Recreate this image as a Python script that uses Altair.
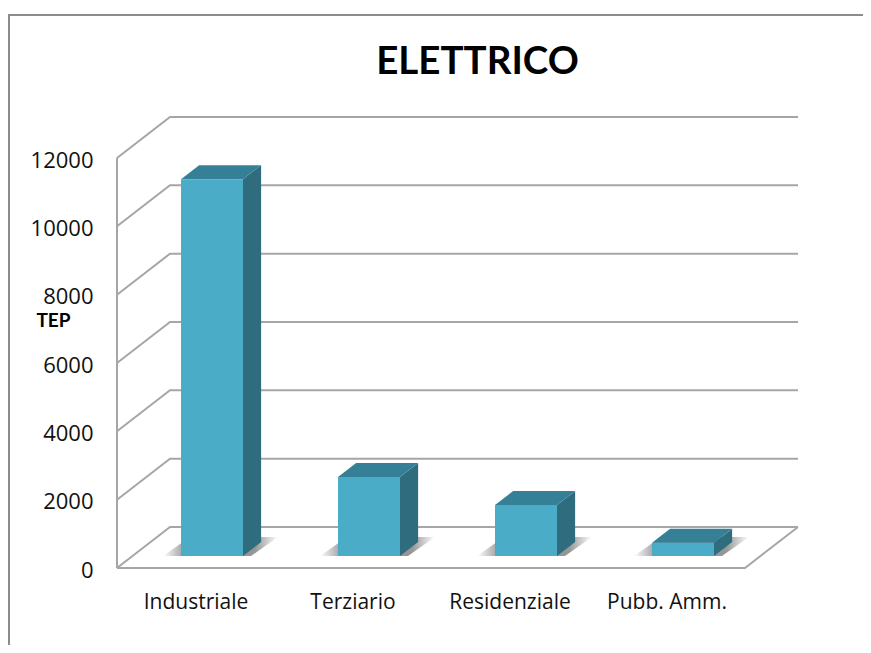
import altair as alt
import pandas as pd

# values
categories = ["Industriale", "Terziario", "Residenziale", "Pubb. Amm."]
values = [11030, 2310, 1490, 390]
ticks = [0, 2000, 4000, 6000, 8000, 10000, 12000]
title_text = "ELETTRICO"

# projection: one category = 157 px, 12000 units = 410 px, depth = 53 px / 41 px
W, H = 855, 637
PX_U = 157.0
PX_V = 410.0 / 12000
X0, Y0 = 117 - 8, 568 - 8          # origin (category 0, value 0) in the plot
DU = 53 / PX_U                     # wall depth, in category units
DV = 41 / PX_V                     # wall depth, in value units
Z_F, Z_B = 12 / 41, 26 / 41        # bar front / back as fraction of depth
BAR = 62 / PX_U

x_dom = [-X0 / PX_U, (W - X0) / PX_U]
y_dom = [-(H - Y0) / PX_V, Y0 / PX_V]
axis_font = "Open Sans"
title_font = "Lato"
x_scale = alt.Scale(domain=x_dom, nice=False, zero=False)
y_scale = alt.Scale(domain=y_dom, nice=False, zero=False)
x_axis = alt.Axis(values=[0.5, 1.5, 2.5, 3.5], offset=-(H - Y0), domain=False, ticks=False, grid=False,
                  title=None, labelPadding=23, labelFontSize=21, labelFont=axis_font, labelColor="#111111",
                  labelExpr="['" + "','".join(categories) + "'][floor(datum.value)]")
y_axis = alt.Axis(values=ticks, offset=-X0, domain=False, ticks=False, grid=False, format="d",
                  labelPadding=24, labelFontSize=22, labelFont=axis_font, labelColor="#111111", labelOffset=2,
                  title="TEP", titleAngle=0, titleX=-64, titleY=312, titleAlign="center",
                  titleBaseline="middle", titleFontSize=19, titleFont=title_font, titleFontWeight="bold",
                  titleColor="#000000")
X = lambda f="x": alt.X(f"{f}:Q", scale=x_scale, axis=x_axis)
Y = lambda f="y": alt.Y(f"{f}:Q", scale=y_scale, axis=y_axis)

# ---- wall, floor and frame lines
grid = []
def poly(name, pts):
    for i, (a, b) in enumerate(pts):
        grid.append(dict(k=name, o=i, x=a, y=b))
for t in ticks:
    poly(f"g{t}", [(0, t), (DU, t + DV), (4 + DU, t + DV)])
poly("floor", [(0, 0), (4, 0), (4 + DU, DV)])
poly("axis", [(0, 0), (0, ticks[-1])])
grid_df = pd.DataFrame(grid)

frame_df = pd.DataFrame([
    dict(o=0, x=x_dom[0] + 1 / PX_U, y=y_dom[0]),
    dict(o=1, x=x_dom[0] + 1 / PX_U, y=y_dom[1] - 7 / PX_V),
    dict(o=2, x=x_dom[1], y=y_dom[1] - 7 / PX_V),
])

# ---- bar faces
front, side, top, shadow = [], [], [], []
for i, (c, v) in enumerate(zip(categories, values)):
    cx = i + 0.5 + Z_F * DU + 1 / PX_U
    l, r = cx - BAR / 2, cx + BAR / 2
    base = Z_F * DV
    dz_u, dz_v = (Z_B - Z_F) * DU, (Z_B - Z_F) * DV
    front.append(dict(c=c, x=l, x2=r, y=base, y2=base + v))
    side += [dict(c=c, x=r, y=base, y2=base + v),
             dict(c=c, x=r + dz_u, y=base + dz_v, y2=base + v + dz_v)]
    top += [dict(c=c, x=l, y=base + v, y2=base + v),
            dict(c=c, x=l + dz_u, y=base + v, y2=base + v + dz_v),
            dict(c=c, x=r, y=base + v, y2=base + v + dz_v),
            dict(c=c, x=r + dz_u, y=base + v + dz_v, y2=base + v + dz_v)]
    sh_l, sh_r, sh_d = l - 18 / PX_U, r + 8 / PX_U, 19 / PX_V
    sl = 27 / PX_U
    shadow += [dict(c=c, x=sh_l, y=base, y2=base),
               dict(c=c, x=sh_l + sl, y=base, y2=base + sh_d),
               dict(c=c, x=sh_r, y=base, y2=base + sh_d),
               dict(c=c, x=sh_r + sl, y=base + sh_d, y2=base + sh_d)]

shadow_fill = alt.Gradient(
    gradient="linear", x1=0, x2=1, y1=0, y2=0,
    stops=[alt.GradientStop(offset=0, color="#ffffff"),
           alt.GradientStop(offset=0.2, color="#8a8a8a"),
           alt.GradientStop(offset=0.8, color="#8a8a8a"),
           alt.GradientStop(offset=1, color="#ffffff")],
)

frame = alt.Chart(frame_df).mark_line(color="#8c8c8c", strokeWidth=2).encode(x=X(), y=Y(), order="o:Q")
lines = alt.Chart(grid_df).mark_line(color="#a6a6a6", strokeWidth=2).encode(x=X(), y=Y(), detail="k:N", order="o:Q")
sh = alt.Chart(pd.DataFrame(shadow)).mark_area(color=shadow_fill, opacity=0.9).encode(x=X(), y=Y(), y2="y2:Q", detail="c:N")
fr = alt.Chart(pd.DataFrame(front)).mark_rect(color="#4aacc7").encode(x=X(), x2="x2:Q", y=Y(), y2="y2:Q")
sd = alt.Chart(pd.DataFrame(side)).mark_area(color="#2e6c7e").encode(x=X(), y=Y(), y2="y2:Q", detail="c:N")
tp = alt.Chart(pd.DataFrame(top)).mark_area(color="#358097").encode(x=X(), y=Y(), y2="y2:Q", detail="c:N")

chart = alt.layer(frame, lines, sh, sd, tp, fr).properties(
    width=W, height=H, padding=0, autosize=alt.AutoSizeParams(type="none"),
    background="#ffffff",
    title=alt.TitleParams(title_text, font=title_font, fontSize=38.5, fontWeight="bold", color="#000000",
                          anchor="middle", dx=42, dy=74, offset=0),
).configure_view(stroke=None)

chart.save("out.html", embed_options={"renderer": "svg", "actions": False})
